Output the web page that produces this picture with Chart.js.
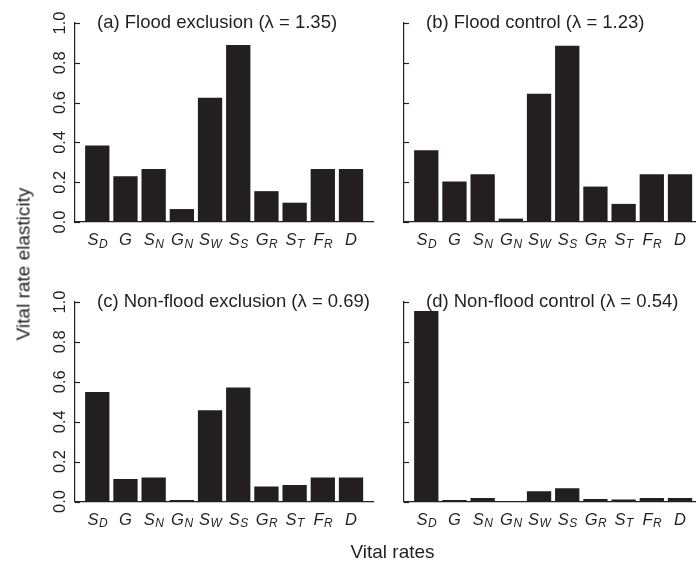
<!DOCTYPE html>
<html>
<head>
<meta charset="utf-8">
<script src="https://cdn.jsdelivr.net/npm/chart.js@4.4.1/dist/chart.umd.min.js"></script>
<style>
  html, body { margin: 0; padding: 0; background: #fff; }
  #wrap { position: relative; width: 696px; height: 562px; overflow: hidden; }
  #wrap canvas { position: absolute; }
  .lab { position: absolute; font-family: "Liberation Sans", Arial, sans-serif; font-size: 19px;
         line-height: 1; color: #231f20; white-space: nowrap; }
  #ytitle { left: 22.5px; top: 263.5px; transform: translate(-50%, -50%) rotate(-90deg); }
  #xtitle { left: 392.5px; top: 542px; transform: translateX(-50%); }
</style>
</head>
<body>
<div id="wrap">
  <canvas id="pa" width="390" height="279" style="left:0;top:0"></canvas>
  <canvas id="pb" width="390" height="279" style="left:329px;top:0"></canvas>
  <canvas id="pc" width="390" height="283" style="left:0;top:279px"></canvas>
  <canvas id="pd" width="390" height="283" style="left:329px;top:279px"></canvas>
  <div class="lab" id="ytitle">Vital rate elasticity</div>
  <div class="lab" id="xtitle">Vital rates</div>
</div>
<script>
const INK = "#231f20";
const FONT = '"Liberation Sans", Arial, sans-serif';

// vital rates, "_" marks the subscript
const categories = ["S_D", "G", "S_N", "G_N", "S_W", "S_S", "G_R", "S_T", "F_R", "D"];

const floodExclusion    = [0.384, 0.230, 0.266, 0.065, 0.625, 0.889, 0.155, 0.097, 0.266, 0.266];
const floodControl      = [0.361, 0.203, 0.240, 0.017, 0.645, 0.886, 0.178, 0.091, 0.240, 0.240];
const nonFloodExclusion = [0.549, 0.113, 0.120, 0.008, 0.457, 0.572, 0.075, 0.083, 0.120, 0.120];
const nonFloodControl   = [0.955, 0.008, 0.018, 0.002, 0.052, 0.067, 0.013, 0.010, 0.018, 0.018];

const yTickValues = [0, 0.2, 0.4, 0.6, 0.8, 1.0];
const yTickLabels = ["0.0", "0.2", "0.4", "0.6", "0.8", "1.0"];

const panelTitles = [
  "(a) Flood exclusion (\u03bb = 1.35)",
  "(b) Flood control (\u03bb = 1.23)",
  "(c) Non-flood exclusion (\u03bb = 0.69)",
  "(d) Non-flood control (\u03bb = 0.54)"
];

// ticks inside the axis, rotated tick labels, subscripted names, panel title
const panelPlugin = {
  id: "panel",
  afterDraw(chart, args, opts) {
    const { ctx, chartArea, scales: { x, y } } = chart;
    ctx.save();
    ctx.strokeStyle = INK;
    ctx.fillStyle = INK;
    ctx.lineWidth = 1.2;
    y.ticks.forEach((t, i) => {
      const py = Math.round(y.getPixelForValue(t.value)) + 0.5;
      ctx.beginPath();
      ctx.moveTo(chartArea.left, py);
      ctx.lineTo(chartArea.left + 5, py);
      ctx.stroke();
      if (opts.tickLabels) {
        ctx.save();
        ctx.translate(chartArea.left - 10, y.getPixelForValue(t.value));
        ctx.rotate(-Math.PI / 2);
        ctx.font = "16.5px " + FONT;
        ctx.textAlign = "center";
        ctx.textBaseline = "alphabetic";
        ctx.fillText(yTickLabels[i], 0, 0);
        ctx.restore();
      }
    });

    const mainFont = "italic 16.5px " + FONT;
    const subFont = "italic 12px " + FONT;
    ctx.textBaseline = "alphabetic";
    ctx.textAlign = "left";
    categories.forEach((name, i) => {
      const [main, sub] = name.split("_");
      ctx.font = mainFont;
      const wm = ctx.measureText(main).width;
      ctx.font = subFont;
      const ws = sub ? ctx.measureText(sub).width : 0;
      const cx = x.getPixelForValue(i);
      const x0 = cx - (wm + ws) / 2;
      ctx.font = mainFont;
      ctx.fillText(main, x0, chartArea.bottom + 23);
      if (sub) {
        ctx.font = subFont;
        ctx.fillText(sub, x0 + wm + 0.5, chartArea.bottom + 25.5);
      }
    });

    ctx.font = "18.5px " + FONT;
    ctx.fillText(opts.title, chartArea.left + 22, chartArea.top + 5);
    ctx.restore();
  }
};

function makePanel(id, values, title, tickLabels) {
  return new Chart(document.getElementById(id), {
    type: "bar",
    data: {
      datasets: [{
        data: values.map((v, i) => ({ x: i, y: v })),
        backgroundColor: INK,
        borderWidth: 0,
        categoryPercentage: 1,
        barPercentage: 0.862
      }]
    },
    options: {
      responsive: false,
      animation: false,
      devicePixelRatio: 1,
      layout: { padding: { top: 23, right: 17, left: 0, bottom: 0 } },
      plugins: {
        legend: { display: false },
        tooltip: { enabled: false },
        panel: { title, tickLabels }
      },
      scales: {
        x: {
          type: "linear",
          offset: false,
          min: -0.79,
          max: 9.78,
          grid: { display: true, drawOnChartArea: false, drawTicks: false },
          border: { display: true, color: INK, width: 1.2 },
          ticks: { display: false },
          afterFit(scale) { scale.height = scale.chart.height - 222 + (scale.chart.height > 280 ? -0.5 : 0); }
        },
        y: {
          min: 0,
          max: 1,
          afterBuildTicks(scale) { scale.ticks = yTickValues.map(v => ({ value: v })); },
          grid: { display: true, drawOnChartArea: false, drawTicks: false },
          border: { display: true, color: INK, width: 1.2 },
          ticks: { display: false },
          afterFit(scale) { scale.width = 75; }
        }
      }
    },
    plugins: [panelPlugin]
  });
}

makePanel("pa", floodExclusion, panelTitles[0], true);
makePanel("pb", floodControl, panelTitles[1], false);
makePanel("pc", nonFloodExclusion, panelTitles[2], true);
makePanel("pd", nonFloodControl, panelTitles[3], false);
</script>
</body>
</html>
